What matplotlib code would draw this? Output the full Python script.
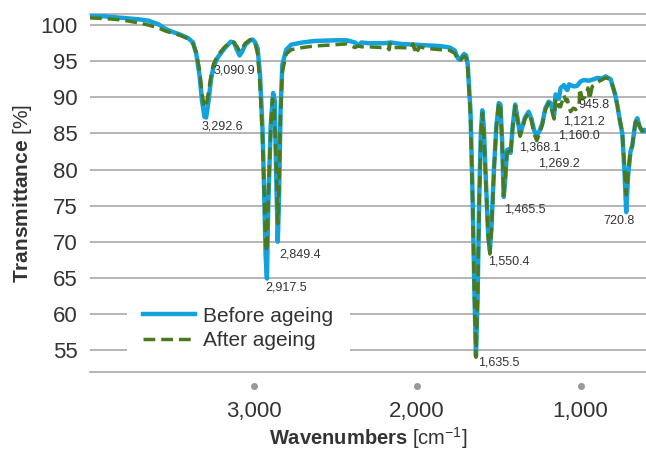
import matplotlib
matplotlib.use("Agg")
import matplotlib.pyplot as plt
from matplotlib.patches import Rectangle

plt.rcParams['font.family'] = ['Liberation Sans', 'DejaVu Sans']
plt.rcParams['mathtext.fontset'] = 'custom'
plt.rcParams['mathtext.rm'] = 'Liberation Sans'
plt.rcParams['mathtext.bf'] = 'Liberation Sans:bold'

# spectrum before ageing (wavenumber, transmittance)
wn_before = [4000, 3900, 3800, 3700, 3640, 3580, 3540, 3500, 3450, 3400, 3370, 3350,
             3330, 3315, 3300, 3290, 3275, 3260, 3245, 3220, 3180, 3140, 3120, 3100,
             3085, 3070, 3050, 3020, 3005, 2990, 2975, 2960, 2945, 2935, 2926, 2918,
             2910, 2895, 2880, 2870, 2862, 2852, 2845, 2835, 2824, 2800, 2770, 2700,
             2630, 2500, 2430, 2380, 2360, 2340, 2300, 2200, 2160, 2100, 2020, 1950,
             1860, 1800, 1770, 1750, 1740, 1712, 1700, 1690, 1673, 1660, 1650, 1640,
             1630, 1620, 1610, 1601, 1592, 1580, 1565, 1555, 1545, 1530, 1515, 1500,
             1490, 1480, 1470, 1460, 1450, 1440, 1428, 1415, 1400, 1385, 1370, 1355,
             1340, 1318, 1300, 1285, 1268, 1250, 1234, 1215, 1195, 1183, 1170, 1162,
             1153, 1140, 1133, 1122, 1102, 1090, 1081, 1070, 1061, 1040, 1021, 1000,
             980, 950, 920, 898, 870, 847, 816, 790, 776, 760, 745, 732, 721, 710, 695,
             684, 665, 653, 640, 623, 610, 600]
t_before = [101.3, 101.2, 101.0, 100.8, 100.6, 100.1, 99.5, 99.1, 98.7, 98.2, 97.6, 96.0,
            93.0, 89.5, 87.3, 87.2, 89.5, 92.5, 94.2, 95.5, 96.7, 97.7, 97.6, 96.5,
            95.8, 96.3, 97.3, 97.9, 98.0, 97.6, 96.8, 93.0, 85.5, 77.0, 68.0, 64.9,
            75.0, 86.0, 90.6, 89.5, 80.0, 70.0, 75.0, 88.0, 94.5, 96.6, 97.3, 97.6,
            97.8, 97.9, 97.9, 97.6, 97.2, 97.6, 97.5, 97.5, 97.6, 97.4, 97.3, 97.2,
            97.1, 96.9, 96.5, 95.4, 95.2, 96.0, 95.8, 94.5, 88.0, 76.0, 64.0, 54.2,
            62.0, 76.0, 85.0, 88.2, 86.0, 79.0, 71.0, 68.8, 72.0, 80.0, 86.0, 89.2,
            89.0, 84.0, 76.2, 79.0, 82.7, 82.8, 82.3, 86.0, 89.0, 87.0, 84.8, 86.0,
            87.2, 88.0, 87.0, 85.5, 84.6, 85.4, 86.4, 88.5, 89.4, 89.2, 88.0, 87.5,
            90.4, 90.1, 89.8, 91.3, 91.7, 91.2, 91.0, 91.8, 91.7, 91.5, 91.6, 92.2,
            92.4, 92.3, 92.5, 92.7, 92.6, 92.9, 92.5, 90.5, 89.0, 86.8, 85.0, 80.0,
            74.1, 79.0, 82.5, 83.3, 86.5, 87.1, 86.0, 85.3, 85.5, 85.3]

# spectrum after ageing
wn_after = [4000, 3900, 3800, 3700, 3640, 3580, 3540, 3500, 3450, 3400, 3370, 3350,
            3330, 3315, 3300, 3290, 3275, 3260, 3245, 3220, 3180, 3140, 3120, 3100,
            3085, 3070, 3050, 3020, 3005, 2990, 2975, 2960, 2945, 2935, 2925, 2918,
            2910, 2895, 2885, 2875, 2862, 2852, 2845, 2835, 2824, 2800, 2770, 2700,
            2630, 2500, 2430, 2400, 2380, 2360, 2340, 2300, 2220, 2180, 2170, 2165,
            2155, 2100, 2040, 2025, 2015, 2005, 1995, 1985, 1950, 1860, 1800, 1770,
            1750, 1740, 1712, 1700, 1690, 1673, 1660, 1650, 1640, 1630, 1620, 1610,
            1601, 1592, 1580, 1565, 1555, 1545, 1530, 1515, 1500, 1490, 1480, 1470,
            1460, 1450, 1440, 1428, 1415, 1400, 1385, 1370, 1355, 1340, 1318, 1300,
            1285, 1268, 1250, 1234, 1215, 1195, 1183, 1170, 1162, 1153, 1140, 1133,
            1122, 1102, 1090, 1081, 1070, 1061, 1045, 1031, 1010, 1005, 990, 975, 955,
            945, 929, 888, 847, 816, 790, 776, 760, 745, 732, 721, 710, 695, 684, 665,
            653, 640, 623, 610, 600]
t_after = [101.0, 100.9, 100.7, 100.3, 100.0, 99.6, 99.2, 98.9, 98.6, 98.1, 97.4, 96.2,
           93.8, 90.5, 88.6, 88.8, 90.8, 93.0, 94.6, 95.8, 96.9, 97.7, 97.6, 97.0,
           96.4, 96.8, 97.5, 98.0, 98.0, 97.4, 96.0, 91.5, 84.0, 77.0, 69.5, 68.6,
           76.0, 85.5, 89.8, 89.2, 81.0, 72.5, 77.0, 87.5, 93.5, 96.0, 96.6, 96.9,
           97.1, 97.3, 97.4, 97.1, 96.9, 97.1, 97.0, 97.0, 96.9, 97.0, 96.6, 97.5,
           96.9, 96.9, 96.8, 97.4, 96.6, 97.3, 96.5, 97.0, 96.8, 96.6, 96.5, 96.1,
           95.2, 95.0, 95.7, 95.5, 94.0, 87.0, 75.0, 63.0, 54.0, 62.0, 75.0, 84.0,
           87.8, 85.5, 78.5, 70.5, 68.3, 71.5, 79.5, 86.0, 89.3, 89.0, 83.5, 76.4,
           79.0, 82.3, 82.5, 82.0, 86.0, 88.8, 86.8, 84.6, 85.8, 87.0, 87.8, 86.7,
           85.0, 84.0, 85.0, 86.2, 88.3, 89.2, 89.0, 87.6, 87.0, 89.8, 89.3, 88.7,
           88.7, 90.3, 89.5, 89.7, 88.6, 88.0, 88.5, 88.3, 88.6, 91.2, 89.8, 90.0, 91.3,
           89.7, 91.5, 92.2, 92.7, 92.5, 90.5, 89.0, 86.8, 85.2, 80.5, 76.5, 79.5,
           82.5, 83.3, 86.5, 87.1, 86.0, 85.3, 85.5, 85.3]

# peak labels: text, x, y
peak_labels = ['3,292.6', '3,090.9', '2,849.4', '2,917.5', '1,635.5', '1,550.4',
               '1,465.5', '720.8', '1,368.1', '1,269.2', '1,160.0', '1,121.2', '945.8']
peak_x = [3318, 3245, 2841, 2927, 1630, 1563, 1465, 859, 1379, 1263, 1135, 1110, 1012]
peak_y = [85.9, 93.7, 68.3, 63.6, 53.3, 67.2, 74.5, 72.9, 83.0, 80.9, 84.7, 86.6, 89.0]

xticks = [3000, 2000, 1000]
xtick_labels = ['3,000', '2,000', '1,000']
yticks = [55, 60, 65, 70, 75, 80, 85, 90, 95, 100]

blue = '#12a2de'
green = '#4a7a1e'
grid_gray = '#a8a8a8'
text_col = '#333333'

fig = plt.figure(figsize=(6.46, 4.5), dpi=100)
ax = fig.add_axes([90 / 646, (450 - 371.7) / 450, 556 / 646, 357.4 / 450])

ax.plot(wn_before, t_before, color=blue, lw=3.2, label='Before ageing',
        solid_joinstyle='round', zorder=3)
ax.plot(wn_after, t_after, color=green, lw=2.5, dashes=(3.4, 1.7),
        label='After ageing', zorder=4)

for lab, px, py in zip(peak_labels, peak_x, peak_y):
    ax.text(px, py, lab, fontsize=9, color=text_col, ha='left', va='center', zorder=5)

ax.set_xlim(4000, 600)
ax.set_ylim(52, 101.5)
ax.set_yticks(yticks)
ax.set_yticklabels([str(v) for v in yticks])
ax.set_xticks(xticks)
ax.set_xticklabels(xtick_labels)
ax.tick_params(axis='y', length=0, pad=9, labelsize=16, labelcolor=text_col)
ax.tick_params(axis='x', length=0, pad=21, labelsize=16, labelcolor=text_col)
ax.yaxis.grid(True, color=grid_gray, lw=1.2)
ax.set_axisbelow(True)

# dot tick markers under the axis
ax.plot(xticks, [-0.04] * len(xticks), 'o', ms=4, color='#999999',
        transform=ax.get_xaxis_transform(), clip_on=False)

for side in ['left', 'right']:
    ax.spines[side].set_visible(False)
for side in ['top', 'bottom']:
    ax.spines[side].set_color(grid_gray)
    ax.spines[side].set_linewidth(1.2)

# white box behind the legend
ax.add_patch(Rectangle((0.067, 0.03), 0.401, 0.175, transform=ax.transAxes,
                       facecolor='white', edgecolor='none', zorder=1))
ax.legend(loc='center left', bbox_to_anchor=(0.095, 0.1217), frameon=False,
          fontsize=15, handlelength=2.5, handletextpad=0.4, labelspacing=0.25,
          borderpad=0, borderaxespad=0, labelcolor=text_col)

ax.set_xlabel(r'$\mathbf{Wavenumbers}$ [cm$^{-1}$]', fontsize=14.5, color=text_col)
ax.xaxis.set_label_coords(0.5, -0.15)
ax.set_ylabel(r'$\mathbf{Transmittance}$ [%]', fontsize=15, color=text_col)
ax.yaxis.set_label_coords(-0.1, 0.5)

fig.savefig('out.png', dpi=100)
